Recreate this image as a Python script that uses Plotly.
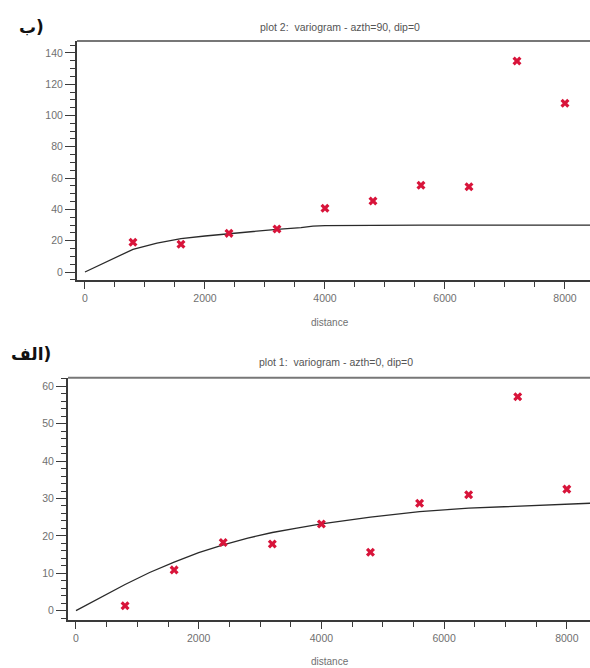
import plotly.graph_objects as go

# ---- data ----
lags = [800, 1600, 2400, 3200, 4000, 4800, 5600, 6400, 7200, 8000]
gamma_plot2 = [19.0, 17.7, 24.7, 27.5, 40.7, 45.4, 55.4, 54.5, 134.8, 107.8]
gamma_plot1 = [1.3, 10.9, 18.2, 17.8, 23.2, 15.6, 28.7, 31.0, 57.2, 32.5]

model2_x = [0, 400, 800, 1200, 1600, 2000, 2400, 2800, 3200, 3600, 3800, 4000, 4400, 4800, 5600, 6400, 7200, 8000, 8500]
model2_y = [0, 7.5, 14.5, 18.5, 21.3, 23.0, 24.5, 26.0, 27.3, 28.3, 29.3, 29.6, 29.8, 30.0, 30.0, 30.0, 30.0, 30.0, 30.0]

model1_x = [0, 400, 800, 1200, 1600, 2000, 2400, 2800, 3200, 3600, 4000, 4800, 5600, 6400, 7200, 8000, 8500]
model1_y = [0, 3.6, 7.0, 10.2, 13.0, 15.5, 17.6, 19.4, 20.9, 22.1, 23.2, 25.0, 26.5, 27.4, 28.0, 28.5, 28.8]

x_ticks = [0, 2000, 4000, 6000, 8000]
y2_ticks = [0, 20, 40, 60, 80, 100, 120, 140]
y1_ticks = [0, 10, 20, 30, 40, 50, 60]

title2 = "plot 2:  variogram - azth=90, dip=0"
title1 = "plot 1:  variogram - azth=0, dip=0"
xlabel = "distance"
label_top = "\u2066ب)\u2069"
label_bot = "\u2066الف)\u2069"

W, H = 590, 668
FONT = "Liberation Sans, Arial, sans-serif"
AX = "#3a3a3a"
TXT = "#707070"
RED = "#d8143a"

fig = go.Figure()

fig.add_trace(go.Scatter(x=model2_x, y=model2_y, mode="lines", line=dict(color="#2a2a2a", width=1.3),
                         xaxis="x", yaxis="y", showlegend=False, hoverinfo="skip"))
fig.add_trace(go.Scatter(x=lags, y=gamma_plot2, mode="markers",
                         marker=dict(symbol="x", size=8, color=RED, line=dict(width=0)),
                         xaxis="x", yaxis="y", showlegend=False))
fig.add_trace(go.Scatter(x=model1_x, y=model1_y, mode="lines", line=dict(color="#2a2a2a", width=1.3),
                         xaxis="x2", yaxis="y2", showlegend=False, hoverinfo="skip"))
fig.add_trace(go.Scatter(x=lags, y=gamma_plot1, mode="markers",
                         marker=dict(symbol="x", size=8, color=RED, line=dict(width=0)),
                         xaxis="x2", yaxis="y2", showlegend=False))

def xax(domain, rng, anchor):
    return dict(domain=domain, range=rng, anchor=anchor, tickvals=x_ticks,
                ticks="outside", ticklen=7, tickwidth=1.2, tickcolor=AX,
                minor=dict(dtick=500, ticks="outside", ticklen=5, tickwidth=1, tickcolor=AX),
                showline=True, linecolor=AX, linewidth=2, showgrid=False, zeroline=False,
                tickfont=dict(family=FONT, size=10.5, color=TXT))

def yax(domain, rng, anchor, ticks, minor_dt):
    return dict(domain=domain, range=rng, anchor=anchor, tickvals=ticks,
                ticks="outside", ticklen=10, tickwidth=1.2, tickcolor=AX,
                minor=dict(dtick=minor_dt, ticks="outside", ticklen=5, tickwidth=1, tickcolor=AX),
                showline=True, linecolor=AX, linewidth=2, showgrid=False, zeroline=False,
                tickfont=dict(family=FONT, size=10.5, color=TXT))

top_y = [1 - 280 / H, 1 - 41 / H]
bot_y = [1 - 620 / H, 1 - 377.7 / H]

def ann(text, xpx, ypx, size, color, family=FONT):
    return dict(text=text, x=xpx / W, y=1 - ypx / H, xref="paper", yref="paper", showarrow=False,
                xanchor="center", yanchor="middle", font=dict(family=family, size=size, color=color))

fig.update_layout(
    width=W, height=H, margin=dict(l=0, r=0, t=0, b=0),
    paper_bgcolor="white", plot_bgcolor="white",
    xaxis=xax([77 / W, 1], [-133, 8417], "y"),
    yaxis=yax(top_y, [-5.1, 147.6], "x", y2_ticks, 5),
    xaxis2=xax([68 / W, 1], [-130, 8378], "y2"),
    yaxis2=yax(bot_y, [-2.5, 62.3], "x2", y1_ticks, 2),
    shapes=[
        dict(type="line", xref="x domain", yref="y domain", x0=0, x1=1, y0=1, y1=1,
             line=dict(color="#777777", width=2)),
        dict(type="line", xref="x2 domain", yref="y2 domain", x0=0, x1=1, y0=1, y1=1,
             line=dict(color="#777777", width=2)),
    ],
    annotations=[
        ann(title2, 340, 27, 10.5, "#555555"),
        ann(title1, 336, 362, 10.5, "#555555"),
        ann(xlabel, 330, 322, 10, TXT),
        ann(xlabel, 330, 661, 10, TXT),
        ann("<b>" + label_top + "</b>", 31, 27, 17, "#111111", "DejaVu Sans, Noto Sans"),
        ann("<b>" + label_bot + "</b>", 31, 354, 17, "#111111", "DejaVu Sans, Noto Sans"),
    ],
)

fig.write_html("out.html")
